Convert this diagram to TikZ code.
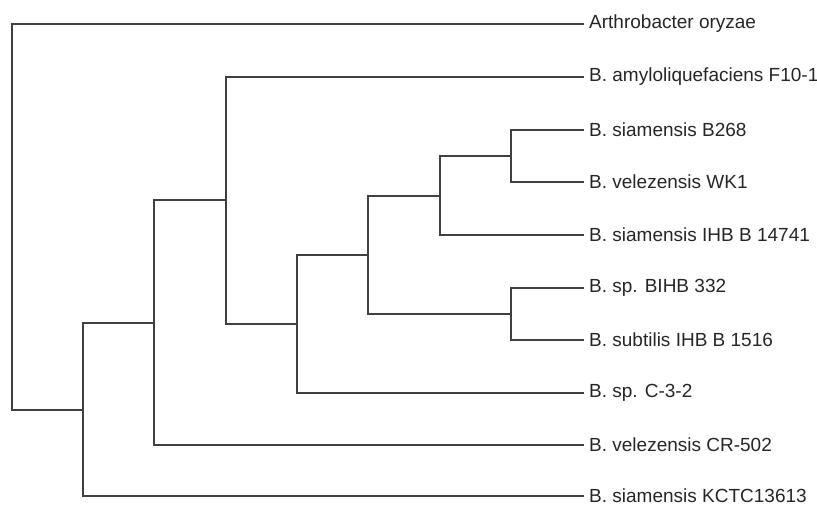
\documentclass[tikz,border=0pt]{standalone}
\usepackage{fontspec}
\setmainfont{Liberation Sans}
\begin{document}
\begin{tikzpicture}[x=1pt,y=-1pt,
  branch/.style={draw=black!75,line width=1.8pt,line cap=rect},
  leaf/.style={anchor=west,inner xsep=6pt,inner ysep=0pt,text=black!85,font=\fontsize{19}{22}\selectfont}]
\useasboundingbox (0,0) rectangle (817,504);
% leaves
\node[leaf] (arth) at (583,24) {Arthrobacter oryzae};
\node[leaf] (amyl) at (583,77) {B. amyloliquefaciens F10-1};
\node[leaf] (b268) at (583,130) {B. siamensis B268};
\node[leaf] (wk1) at (583,182) {B. velezensis WK1};
\node[leaf] (ihb) at (583,235) {B. siamensis IHB B 14741};
\node[leaf] (bihb) at (583,288) {B. sp. BIHB 332};
\node[leaf] (subt) at (583,340) {B. subtilis IHB B 1516};
\node[leaf] (c32) at (583,393) {B. sp. C-3-2};
\node[leaf] (cr) at (583,445) {B. velezensis CR-502};
\node[leaf] (kctc) at (583,496) {B. siamensis KCTC13613};
% internal nodes
\coordinate (r) at (12,217);
\coordinate (n1) at (83,410);
\coordinate (n2) at (154,323);
\coordinate (n3) at (226,200);
\coordinate (n4) at (297,324);
\coordinate (n5) at (368,255);
\coordinate (n6) at (440,196);
\coordinate (n7) at (511,156);
\coordinate (n8) at (511,314);
% branches
\draw[branch] (r) |- (arth.west);
\draw[branch] (r) |- (n1);
\draw[branch] (n1) |- (n2);
\draw[branch] (n1) |- (kctc.west);
\draw[branch] (n2) |- (n3);
\draw[branch] (n2) |- (cr.west);
\draw[branch] (n3) |- (amyl.west);
\draw[branch] (n3) |- (n4);
\draw[branch] (n4) |- (n5);
\draw[branch] (n4) |- (c32.west);
\draw[branch] (n5) |- (n6);
\draw[branch] (n5) |- (n8);
\draw[branch] (n6) |- (n7);
\draw[branch] (n6) |- (ihb.west);
\draw[branch] (n7) |- (b268.west);
\draw[branch] (n7) |- (wk1.west);
\draw[branch] (n8) |- (bihb.west);
\draw[branch] (n8) |- (subt.west);
\end{tikzpicture}
\end{document}
